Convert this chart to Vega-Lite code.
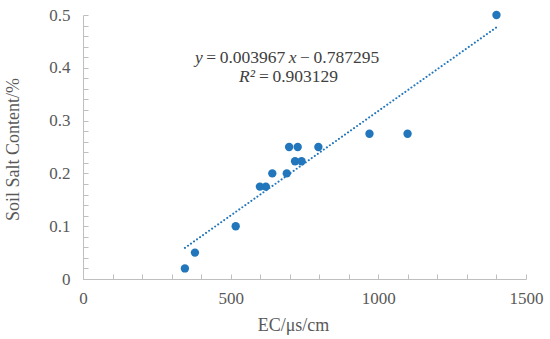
{
  "$schema": "https://vega.github.io/schema/vega-lite/v6.json",
  "width": 443,
  "height": 264,
  "autosize": {"type": "none"},
  "padding": {"left": 83, "top": 15, "right": 24, "bottom": 60},
  "background": "white",
  "config": {
    "view": {"stroke": null},
    "font": "Liberation Serif",
    "axis": {
      "labelFont": "Liberation Serif",
      "titleFont": "Liberation Serif",
      "labelFontSize": 17,
      "titleFontSize": 18,
      "labelColor": "#595959",
      "titleColor": "#595959",
      "titleFontWeight": "normal",
      "domainColor": "#bfbfbf",
      "tickColor": "#bfbfbf",
      "grid": false
    }
  },
  "datasets": {
    "pts": [
      {"ec": 345, "salt": 0.02},
      {"ec": 379, "salt": 0.05},
      {"ec": 517, "salt": 0.1},
      {"ec": 599, "salt": 0.175},
      {"ec": 619, "salt": 0.175},
      {"ec": 641, "salt": 0.2},
      {"ec": 690, "salt": 0.2},
      {"ec": 698, "salt": 0.25},
      {"ec": 718, "salt": 0.223},
      {"ec": 727, "salt": 0.25},
      {"ec": 740, "salt": 0.223},
      {"ec": 797, "salt": 0.25},
      {"ec": 970, "salt": 0.275},
      {"ec": 1099, "salt": 0.275},
      {"ec": 1400, "salt": 0.5}
    ],
    "ital": [
      {"x": 379.2, "y": 0.4085, "t": "y"},
      {"x": 696.8, "y": 0.4085, "t": "x"},
      {"x": 528.2, "y": 0.3737, "t": "R²"}
    ],
    "norm": [
      {"x": 417.5, "y": 0.4085, "t": "="},
      {"x": 462.9, "y": 0.4085, "t": "0.003967"},
      {"x": 735.1, "y": 0.4085, "t": "−"},
      {"x": 780.5, "y": 0.4085, "t": "0.787295"},
      {"x": 595.9, "y": 0.3737, "t": "="},
      {"x": 641.3, "y": 0.3737, "t": "0.903129"}
    ]
  },
  "layer": [
    {
      "data": {"name": "pts"},
      "transform": [{"regression": "salt", "on": "ec"}],
      "mark": {"type": "line", "color": "#2176BC", "strokeWidth": 2, "strokeDash": [0.1, 3.6], "strokeCap": "round"},
      "encoding": {
        "x": {"field": "ec", "type": "quantitative", "scale": {"domain": [0, 1500], "nice": false},
          "axis": {"title": "EC/μs/cm", "values": [0,100,200,300,400,500,600,700,800,900,1000,1100,1200,1300,1400,1500],
            "tickCount": 100,
            "labelExpr": "datum.value % 500 === 0 ? format(datum.value, 'd') : ''",
            "tickSize": -5, "labelPadding": 16, "labelFlush": false, "labelOverlap": false,
            "titleX": 210, "titleY": 51, "titleBaseline": "alphabetic"}},
        "y": {"field": "salt", "type": "quantitative", "scale": {"domain": [0, 0.5], "nice": false},
          "axis": {"title": "Soil Salt Content/%", "values": [0,0.02,0.04,0.06,0.08,0.1,0.12,0.14,0.16,0.18,0.2,0.22,0.24,0.26,0.28,0.3,0.32,0.34,0.36,0.38,0.4,0.42,0.44,0.46,0.48,0.5],
            "tickCount": 100,
            "labelExpr": "round(datum.value*100) % 10 === 0 ? format(datum.value, '~g') : ''",
            "tickSize": -5, "labelPadding": 18, "labelFlush": false, "labelOverlap": false,
            "titleX": -70, "titleY": 134, "titleBaseline": "middle", "titleAngle": -90, "titleAlign": "center"}}
      }
    },
    {
      "data": {"name": "pts"},
      "mark": {"type": "circle", "color": "#2176BC", "opacity": 1, "size": 70},
      "encoding": {
        "x": {"field": "ec", "type": "quantitative"},
        "y": {"field": "salt", "type": "quantitative"}
      }
    },
    {
      "data": {"name": "ital"},
      "mark": {"type": "text", "align": "left", "baseline": "alphabetic", "fontSize": 17.5, "fontStyle": "italic", "font": "Liberation Serif", "color": "#404040"},
      "encoding": {
        "x": {"field": "x", "type": "quantitative"},
        "y": {"field": "y", "type": "quantitative"},
        "text": {"field": "t"}
      }
    },
    {
      "data": {"name": "norm"},
      "mark": {"type": "text", "align": "left", "baseline": "alphabetic", "fontSize": 17.5, "font": "Liberation Serif", "color": "#404040"},
      "encoding": {
        "x": {"field": "x", "type": "quantitative"},
        "y": {"field": "y", "type": "quantitative"},
        "text": {"field": "t"}
      }
    }
  ]
}
